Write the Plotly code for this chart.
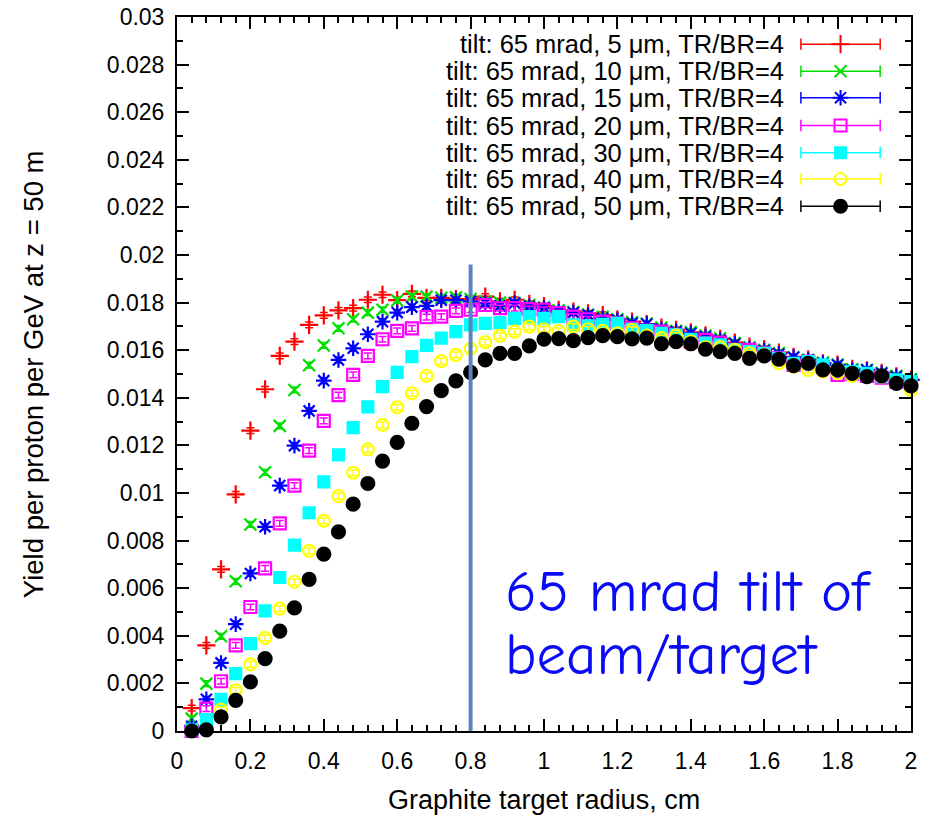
import plotly.graph_objects as go

# ---------------- data ----------------
radius_cm = [0.04, 0.08, 0.12, 0.16, 0.20, 0.24, 0.28, 0.32, 0.36, 0.40,
             0.44, 0.48, 0.52, 0.56, 0.60, 0.64, 0.68, 0.72, 0.76, 0.80,
             0.84, 0.88, 0.92, 0.96, 1.00, 1.04, 1.08, 1.12, 1.16, 1.20,
             1.24, 1.28, 1.32, 1.36, 1.40, 1.44, 1.48, 1.52, 1.56, 1.60,
             1.64, 1.68, 1.72, 1.76, 1.80, 1.84, 1.88, 1.92, 1.96, 2.00]

yield_5um = [0.00096, 0.00360, 0.00679, 0.00994, 0.01262, 0.01436, 0.01576, 0.01636, 0.01706, 0.01746,
             0.01767, 0.01777, 0.01812, 0.01833, 0.01810, 0.01837, 0.01820, 0.01820, 0.01815, 0.01815,
             0.01825, 0.01805, 0.01812, 0.01795, 0.01785, 0.01770, 0.01762, 0.01755, 0.01748, 0.01730,
             0.01720, 0.01710, 0.01695, 0.01685, 0.01675, 0.01662, 0.01648, 0.01632, 0.01615, 0.01605,
             0.01590, 0.01572, 0.01562, 0.01545, 0.01540, 0.01522, 0.01515, 0.01505, 0.01490, 0.01475]

yield_10um = [0.00052, 0.00199, 0.00398, 0.00629, 0.00868, 0.01087, 0.01282, 0.01433, 0.01537, 0.01620,
              0.01692, 0.01730, 0.01758, 0.01770, 0.01809, 0.01825, 0.01825, 0.01820, 0.01822, 0.01815,
              0.01805, 0.01800, 0.01798, 0.01790, 0.01780, 0.01768, 0.01760, 0.01750, 0.01740, 0.01730,
              0.01718, 0.01712, 0.01695, 0.01682, 0.01676, 0.01662, 0.01650, 0.01630, 0.01612, 0.01602,
              0.01588, 0.01570, 0.01560, 0.01548, 0.01540, 0.01520, 0.01518, 0.01505, 0.01492, 0.01478]

yield_15um = [0.00020, 0.00133, 0.00286, 0.00449, 0.00662, 0.00858, 0.01031, 0.01199, 0.01345, 0.01472,
              0.01559, 0.01608, 0.01667, 0.01720, 0.01758, 0.01781, 0.01786, 0.01810, 0.01810, 0.01805,
              0.01798, 0.01786, 0.01798, 0.01784, 0.01777, 0.01762, 0.01758, 0.01748, 0.01734, 0.01727,
              0.01713, 0.01710, 0.01688, 0.01678, 0.01671, 0.01657, 0.01643, 0.01627, 0.01608, 0.01599,
              0.01584, 0.01570, 0.01559, 0.01545, 0.01538, 0.01517, 0.01517, 0.01503, 0.01489, 0.01475]

yield_20um = [0.00000, 0.00094, 0.00209, 0.00360, 0.00521, 0.00683, 0.00872, 0.01031, 0.01178, 0.01303,
              0.01411, 0.01496, 0.01576, 0.01646, 0.01681, 0.01692, 0.01739, 0.01741, 0.01765, 0.01770,
              0.01790, 0.01777, 0.01777, 0.01773, 0.01770, 0.01756, 0.01741, 0.01730, 0.01720, 0.01713,
              0.01692, 0.01682, 0.01678, 0.01664, 0.01636, 0.01643, 0.01632, 0.01601, 0.01601, 0.01587,
              0.01566, 0.01538, 0.01552, 0.01531, 0.01496, 0.01500, 0.01492, 0.01485, 0.01468, 0.01461]

yield_30um = [0.00005, 0.00048, 0.00133, 0.00241, 0.00367, 0.00505, 0.00645, 0.00781, 0.00917, 0.01047,
              0.01160, 0.01275, 0.01362, 0.01447, 0.01507, 0.01573, 0.01620, 0.01651, 0.01678, 0.01706,
              0.01713, 0.01716, 0.01734, 0.01741, 0.01734, 0.01741, 0.01706, 0.01702, 0.01709, 0.01713,
              0.01688, 0.01682, 0.01671, 0.01664, 0.01646, 0.01630, 0.01623, 0.01601, 0.01594, 0.01587,
              0.01566, 0.01545, 0.01552, 0.01538, 0.01517, 0.01510, 0.01503, 0.01489, 0.01475, 0.01468]

yield_40um = [0.00000, 0.00006, 0.00090, 0.00171, 0.00280, 0.00391, 0.00514, 0.00627, 0.00757, 0.00883,
              0.00987, 0.01085, 0.01183, 0.01286, 0.01360, 0.01419, 0.01492, 0.01554, 0.01580, 0.01606,
              0.01634, 0.01661, 0.01678, 0.01699, 0.01688, 0.01681, 0.01699, 0.01688, 0.01681, 0.01671,
              0.01685, 0.01661, 0.01651, 0.01661, 0.01636, 0.01612, 0.01612, 0.01601, 0.01587, 0.01580,
              0.01545, 0.01531, 0.01517, 0.01510, 0.01503, 0.01492, 0.01489, 0.01489, 0.01461, 0.01433]

yield_50um = [0.00000, 0.00005, 0.00059, 0.00129, 0.00206, 0.00304, 0.00420, 0.00517, 0.00637, 0.00743,
              0.00837, 0.00953, 0.01040, 0.01134, 0.01213, 0.01293, 0.01363, 0.01430, 0.01471, 0.01507,
              0.01559, 0.01587, 0.01587, 0.01618, 0.01646, 0.01649, 0.01640, 0.01653, 0.01661, 0.01657,
              0.01648, 0.01651, 0.01627, 0.01636, 0.01627, 0.01604, 0.01594, 0.01587, 0.01566, 0.01576,
              0.01562, 0.01535, 0.01545, 0.01517, 0.01517, 0.01503, 0.01489, 0.01492, 0.01461, 0.01450]

series_names = ["tilt: 65 mrad, 5 μm, TR/BR=4", "tilt: 65 mrad, 10 μm, TR/BR=4",
                "tilt: 65 mrad, 15 μm, TR/BR=4", "tilt: 65 mrad, 20 μm, TR/BR=4",
                "tilt: 65 mrad, 30 μm, TR/BR=4", "tilt: 65 mrad, 40 μm, TR/BR=4",
                "tilt: 65 mrad, 50 μm, TR/BR=4"]
series_values = [yield_5um, yield_10um, yield_15um, yield_20um, yield_30um, yield_40um, yield_50um]

x_tick_values = [0, 0.2, 0.4, 0.6, 0.8, 1.0, 1.2, 1.4, 1.6, 1.8, 2.0]
x_tick_labels = ["0", "0.2", "0.4", "0.6", "0.8", "1", "1.2", "1.4", "1.6", "1.8", "2"]
y_tick_values = [0, 0.002, 0.004, 0.006, 0.008, 0.01, 0.012, 0.014, 0.016, 0.018,
                 0.02, 0.022, 0.024, 0.026, 0.028, 0.03]
y_tick_labels = ["0", "0.002", "0.004", "0.006", "0.008", "0.01", "0.012", "0.014", "0.016",
                 "0.018", "0.02", "0.022", "0.024", "0.026", "0.028", "0.03"]

marker_line_x = 0.8
marker_line_top = 0.0196
note_lines = ["65 mrad tilt of", "beam/target"]

# ---------------- styles ----------------
colors = ["#FF0000", "#00E000", "#0000FF", "#FF00FF", "#00FFFF", "#FFFF00", "#000000"]
symbols = ["cross-thin-open", "x-thin-open", "asterisk-open", "square-open", "square",
           "circle-open", "circle"]
sizes = [13, 12, 13, 12, 11, 12, 13]
YERR = 0.00012
FONT = "Liberation Sans, Arial, Helvetica, sans-serif"

fig = go.Figure()

for name, vals, c, s, sz in zip(series_names, series_values, colors, symbols, sizes):
    fig.add_trace(go.Scatter(
        x=radius_cm, y=vals, mode="markers", name=name, showlegend=False,
        marker=dict(symbol=s, size=sz, color=c, line=dict(color=c, width=2.2)),
        error_y=dict(type="constant", value=YERR, color=c, thickness=1.5, width=4),
        cliponaxis=False,
    ))

# ---- manual legend (text left, sample on right, as in the original) ----
row_y = [0.962, 0.924, 0.887, 0.848, 0.810, 0.773, 0.735]
lx0, lx1, lxm, ltext = 0.850, 0.958, 0.904, 0.829
for name, c, s, sz, ry in zip(series_names, colors, symbols, sizes, row_y):
    fig.add_annotation(x=ltext, y=ry, xref="paper", yref="paper", text=name,
                       showarrow=False, xanchor="right", yanchor="middle", borderpad=0,
                       font=dict(family=FONT, size=25.5, color="black"))
    fig.add_shape(type="line", xref="paper", yref="paper", x0=lx0, x1=lx1, y0=ry, y1=ry,
                  line=dict(color=c, width=1.5))
    for xx in (lx0, lx1):
        fig.add_shape(type="line", xref="paper", yref="paper", x0=xx, x1=xx,
                      y0=ry - 0.008, y1=ry + 0.008, line=dict(color=c, width=1.5))
    fig.add_trace(go.Scatter(x=[lxm], y=[ry], xaxis="x2", yaxis="y2", mode="markers",
                             showlegend=False, hoverinfo="skip",
                             marker=dict(symbol=s, size=sz, color=c, line=dict(color=c, width=2))))

# vertical marker line at 0.8 cm
fig.add_shape(type="line", x0=marker_line_x, x1=marker_line_x, y0=0, y1=marker_line_top,
              xref="x", yref="y", line=dict(color="#5A84BE", width=4), layer="above")

# blue note (two lines, placed separately to control line spacing)
for txt, yy in zip(note_lines, [0.194, 0.106]):
    fig.add_annotation(x=0.444, y=yy, xref="paper", yref="paper", text=txt,
                       showarrow=False, xanchor="left", yanchor="middle", align="left",
                       font=dict(family="Comic Sans MS, Comic Neue, Lato, sans-serif", size=59,
                                 color="#0A0AF5"))

# axis titles
fig.add_annotation(x=0.5, y=-0.097, xref="paper", yref="paper",
                   text="Graphite target radius, cm", showarrow=False,
                   xanchor="center", yanchor="middle",
                   font=dict(family=FONT, size=27, color="black"))
fig.add_annotation(x=-0.196, y=0.5, xref="paper", yref="paper",
                   text="Yield per proton per GeV at z = 50 m", showarrow=False,
                   textangle=-90, xanchor="center", yanchor="middle",
                   font=dict(family=FONT, size=27.5, color="black"))

axis_common = dict(showline=True, linecolor="black", linewidth=2, mirror="allticks",
                   ticks="inside", ticklen=12, tickwidth=2, tickcolor="black",
                   showgrid=False, zeroline=False, ticklabeloverflow="allow",
                   automargin=False,
                   tickfont=dict(family=FONT, size=23, color="black"))

fig.update_layout(
    width=927, height=817,
    margin=dict(l=177, r=16, t=17, b=86, autoexpand=False),
    paper_bgcolor="white", plot_bgcolor="white",
    showlegend=False,
    xaxis=dict(range=[0, 2.0000001], tickvals=x_tick_values, ticktext=x_tick_labels,
               minor=dict(ticks="inside", ticklen=6, tickwidth=2, tickcolor="black", dtick=0.04),
               ticklabelstandoff=8, **axis_common),
    yaxis=dict(range=[0, 0.03000001], tickvals=y_tick_values, ticktext=y_tick_labels,
               minor=dict(ticks="inside", ticklen=6, tickwidth=2, tickcolor="black", dtick=0.001),
               ticklabelstandoff=6, **axis_common),
    xaxis2=dict(range=[0, 1], overlaying="x", visible=False, fixedrange=True),
    yaxis2=dict(range=[0, 1], overlaying="y", visible=False, fixedrange=True),
)

# remove the browser's default 8px body margin so the figure fills the window exactly
fig.write_html("out.html", config={"displayModeBar": False},
               post_script="document.body.style.margin='0';document.body.style.overflow='hidden';")
